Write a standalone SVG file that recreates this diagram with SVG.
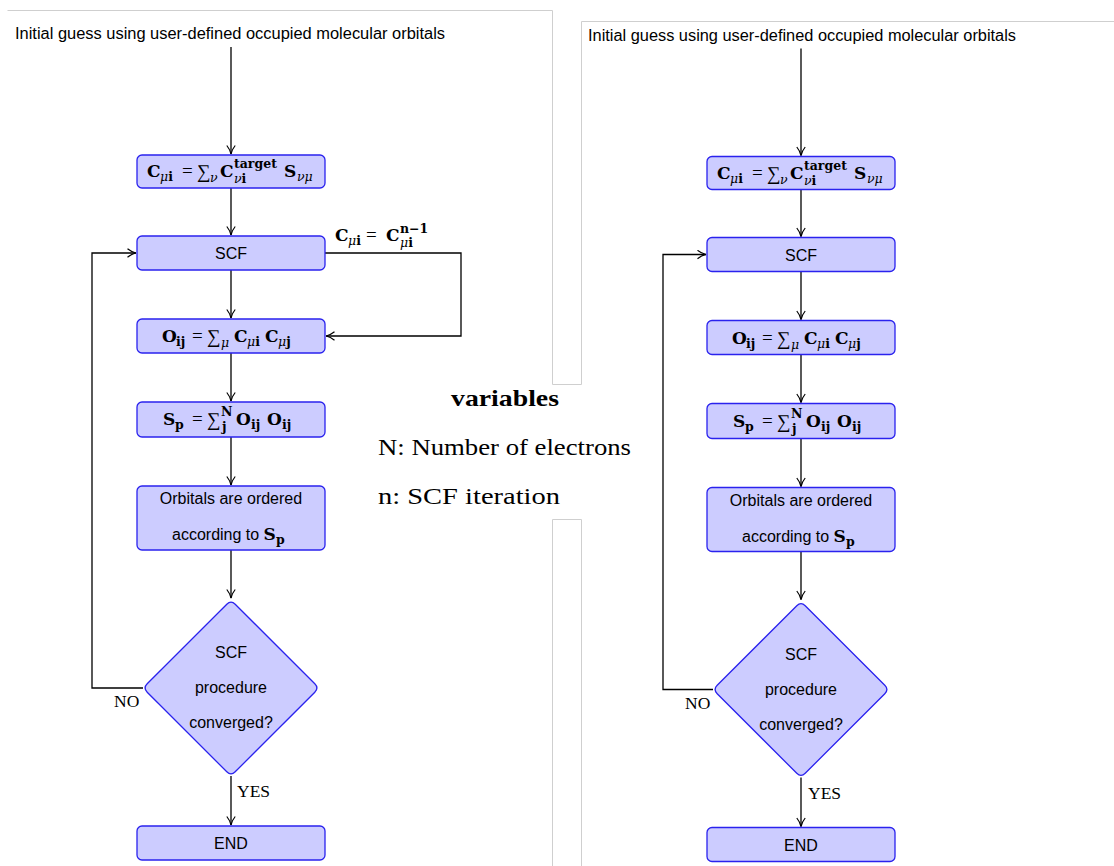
<svg xmlns="http://www.w3.org/2000/svg" width="1114" height="866" viewBox="0 0 1114 866">
<style>
.frame{fill:none;stroke:#cfcfcf;stroke-width:1}
.box{fill:#ccccff;stroke:#2a22ee;stroke-width:1.3}
.con{fill:none;stroke:#000;stroke-width:1.3}
.sans{font-family:"Liberation Sans",Arial,sans-serif;font-size:16px;fill:#000}
.m{font-family:"DejaVu Serif",serif;font-weight:bold;font-size:17px;fill:#000}
.s{font-size:12.5px}
.g{font-style:italic;font-weight:normal}
.r{font-family:"Liberation Serif","Times New Roman",serif;font-weight:normal;font-size:19px}
.lab{font-family:"Liberation Serif","Times New Roman",serif;font-size:17.5px;fill:#000}
.var{font-family:"Liberation Serif","Times New Roman",serif;font-size:24px;fill:#000}
</style>
<defs>
<marker id="arr" viewBox="0 0 10 10" refX="9.5" refY="5" markerWidth="10" markerHeight="10" markerUnits="userSpaceOnUse" orient="auto">
<path d="M1,0.8 Q5,4 9.5,5 Q5,6 1,9.2" fill="none" stroke="#000" stroke-width="1.2"/>
</marker>
</defs>
<rect width="1114" height="866" fill="#fff"/>
<g id="frames">
<path class="frame" d="M7.5,10.5 H552.5 V384.5 H581.5 V21.5 H1114"/>
<path class="frame" d="M552.5,866 V519.5 H581.5 V866"/>
</g>

<g id="left">
<g id="connectors-left">
<line class="con" x1="231" y1="47" x2="231" y2="154" marker-end="url(#arr)"/>
<line class="con" x1="231" y1="188" x2="231" y2="235" marker-end="url(#arr)"/>
<line class="con" x1="231" y1="270" x2="231" y2="318" marker-end="url(#arr)"/>
<line class="con" x1="231" y1="353" x2="231" y2="401" marker-end="url(#arr)"/>
<line class="con" x1="231" y1="437" x2="231" y2="485" marker-end="url(#arr)"/>
<line class="con" x1="231" y1="550" x2="231" y2="598" marker-end="url(#arr)"/>
<line class="con" x1="231" y1="776" x2="231" y2="825" marker-end="url(#arr)"/>
<polyline class="con" points="143,688 92,688 92,253 136,253" marker-end="url(#arr)"/>
<polyline class="con" points="325,253 461,253 461,336 326,336" marker-end="url(#arr)"/>
<text class="lab" x="114" y="707">NO</text>
<text class="lab" x="237" y="797">YES</text>
<text class="m" y="241"><tspan x="335">C</tspan><tspan class="s g" x="348" y="245">μ</tspan><tspan class="s">i</tspan><tspan class="r" x="366" y="241">=</tspan><tspan x="386">C</tspan><tspan class="s" x="400" y="233">n−1</tspan><tspan class="s g" x="400" y="247">μ</tspan><tspan class="s">i</tspan></text>
</g>
<g id="title-left"><text class="sans" x="15" y="39" textLength="430" lengthAdjust="spacingAndGlyphs">Initial guess using user-defined occupied molecular orbitals</text></g>
<g id="box-c">
<rect class="box" x="137" y="155" width="188" height="33" rx="5"/>
<text class="m" y="177"><tspan x="147">C</tspan><tspan class="s g" x="160" y="181">μ</tspan><tspan class="s">i</tspan><tspan class="r" x="182" y="177">=</tspan><tspan class="r" x="197" y="178">∑</tspan><tspan class="s g" x="210" y="182">ν</tspan><tspan x="220" y="177">C</tspan><tspan class="s" x="234" y="168">target</tspan><tspan class="s g" x="234" y="183">ν</tspan><tspan class="s">i</tspan><tspan x="284" y="177">S</tspan><tspan class="s g" x="297" y="181">νμ</tspan></text>
</g>
<g id="box-scf">
<rect class="box" x="137" y="236" width="188" height="34" rx="5"/>
<text class="sans" x="231" y="259" text-anchor="middle">SCF</text>
</g>
<g id="box-o">
<rect class="box" x="137" y="319" width="188" height="34" rx="5"/>
<text class="m" y="342"><tspan x="162">O</tspan><tspan class="s" x="176" y="346">ij</tspan><tspan class="r" x="192" y="342">=</tspan><tspan class="r" x="207" y="343">∑</tspan><tspan class="s g" x="221" y="347">μ</tspan><tspan x="234" y="342">C</tspan><tspan class="s g" x="247" y="346">μ</tspan><tspan class="s">i</tspan><tspan x="265" y="342">C</tspan><tspan class="s g" x="278" y="346">μ</tspan><tspan class="s">j</tspan></text>
</g>
<g id="box-s">
<rect class="box" x="137" y="402" width="188" height="35" rx="5"/>
<text class="m" y="425"><tspan x="163">S</tspan><tspan class="s" x="175" y="429">p</tspan><tspan class="r" x="192" y="425">=</tspan><tspan class="r" x="207" y="426">∑</tspan><tspan class="s" x="221" y="416">N</tspan><tspan class="s" x="222" y="431">j</tspan><tspan x="236" y="425">O</tspan><tspan class="s" x="251" y="429">ij</tspan><tspan x="267" y="425">O</tspan><tspan class="s" x="282" y="429">ij</tspan></text>
</g>
<g id="box-orb">
<rect class="box" x="137" y="486" width="188" height="64" rx="5"/>
<text class="sans" x="231" y="504" text-anchor="middle">Orbitals are ordered</text>
<text class="sans" x="172" y="540">according to <tspan class="m">S</tspan><tspan class="m s" dy="4">p</tspan></text>
</g>
<g id="diamond">
<path class="box" d="M226.8,604.2 Q231,600 235.2,604.2 L314.8,683.8 Q319,688 314.8,692.2 L235.2,771.8 Q231,776 226.8,771.8 L147.2,692.2 Q143,688 147.2,683.8 Z"/>
<text class="sans" x="231" y="658" text-anchor="middle">SCF</text>
<text class="sans" x="231" y="693" text-anchor="middle">procedure</text>
<text class="sans" x="231" y="728" text-anchor="middle">converged?</text>
</g>
<g id="box-end">
<rect class="box" x="137" y="826" width="188" height="34" rx="5"/>
<text class="sans" x="231" y="849" text-anchor="middle">END</text>
</g>
</g>

<g id="right" transform="translate(570,1.5)">
<g id="connectors-right">
<line class="con" x1="231" y1="47" x2="231" y2="154" marker-end="url(#arr)"/>
<line class="con" x1="231" y1="188" x2="231" y2="235" marker-end="url(#arr)"/>
<line class="con" x1="231" y1="270" x2="231" y2="318" marker-end="url(#arr)"/>
<line class="con" x1="231" y1="353" x2="231" y2="401" marker-end="url(#arr)"/>
<line class="con" x1="231" y1="437" x2="231" y2="485" marker-end="url(#arr)"/>
<line class="con" x1="231" y1="550" x2="231" y2="598" marker-end="url(#arr)"/>
<line class="con" x1="231" y1="776" x2="231" y2="825" marker-end="url(#arr)"/>
<polyline class="con" points="143,688 93,688 93,253 136,253" marker-end="url(#arr)"/>
<text class="lab" x="115" y="707">NO</text>
<text class="lab" x="238" y="797">YES</text>
</g>
<g id="title-right"><text class="sans" x="18" y="39" textLength="428" lengthAdjust="spacingAndGlyphs">Initial guess using user-defined occupied molecular orbitals</text></g>
<g id="r-box-c">
<rect class="box" x="137" y="155" width="188" height="33" rx="5"/>
<text class="m" y="177"><tspan x="147">C</tspan><tspan class="s g" x="160" y="181">μ</tspan><tspan class="s">i</tspan><tspan class="r" x="182" y="177">=</tspan><tspan class="r" x="197" y="178">∑</tspan><tspan class="s g" x="210" y="182">ν</tspan><tspan x="220" y="177">C</tspan><tspan class="s" x="234" y="168">target</tspan><tspan class="s g" x="234" y="183">ν</tspan><tspan class="s">i</tspan><tspan x="284" y="177">S</tspan><tspan class="s g" x="297" y="181">νμ</tspan></text>
</g>
<g id="r-box-scf">
<rect class="box" x="137" y="236" width="188" height="34" rx="5"/>
<text class="sans" x="231" y="259" text-anchor="middle">SCF</text>
</g>
<g id="r-box-o">
<rect class="box" x="137" y="319" width="188" height="34" rx="5"/>
<text class="m" y="342"><tspan x="162">O</tspan><tspan class="s" x="176" y="346">ij</tspan><tspan class="r" x="192" y="342">=</tspan><tspan class="r" x="207" y="343">∑</tspan><tspan class="s g" x="221" y="347">μ</tspan><tspan x="234" y="342">C</tspan><tspan class="s g" x="247" y="346">μ</tspan><tspan class="s">i</tspan><tspan x="265" y="342">C</tspan><tspan class="s g" x="278" y="346">μ</tspan><tspan class="s">j</tspan></text>
</g>
<g id="r-box-s">
<rect class="box" x="137" y="402" width="188" height="35" rx="5"/>
<text class="m" y="425"><tspan x="163">S</tspan><tspan class="s" x="175" y="429">p</tspan><tspan class="r" x="192" y="425">=</tspan><tspan class="r" x="207" y="426">∑</tspan><tspan class="s" x="221" y="416">N</tspan><tspan class="s" x="222" y="431">j</tspan><tspan x="236" y="425">O</tspan><tspan class="s" x="251" y="429">ij</tspan><tspan x="267" y="425">O</tspan><tspan class="s" x="282" y="429">ij</tspan></text>
</g>
<g id="r-box-orb">
<rect class="box" x="137" y="486" width="188" height="64" rx="5"/>
<text class="sans" x="231" y="504" text-anchor="middle">Orbitals are ordered</text>
<text class="sans" x="172" y="540">according to <tspan class="m">S</tspan><tspan class="m s" dy="4">p</tspan></text>
</g>
<g id="r-diamond">
<path class="box" d="M226.8,604.2 Q231,600 235.2,604.2 L314.8,683.8 Q319,688 314.8,692.2 L235.2,771.8 Q231,776 226.8,771.8 L147.2,692.2 Q143,688 147.2,683.8 Z"/>
<text class="sans" x="231" y="658" text-anchor="middle">SCF</text>
<text class="sans" x="231" y="693" text-anchor="middle">procedure</text>
<text class="sans" x="231" y="728" text-anchor="middle">converged?</text>
</g>
<g id="r-box-end">
<rect class="box" x="137" y="826" width="188" height="34" rx="5"/>
<text class="sans" x="231" y="849" text-anchor="middle">END</text>
</g>
</g>

<g id="variables">
<text class="var" x="451" y="406" textLength="108" lengthAdjust="spacingAndGlyphs" font-weight="bold">variables</text>
<text class="var" x="378" y="455" textLength="253" lengthAdjust="spacingAndGlyphs">N: Number of electrons</text>
<text class="var" x="378" y="504" textLength="182" lengthAdjust="spacingAndGlyphs">n: SCF iteration</text>
</g>
</svg>
